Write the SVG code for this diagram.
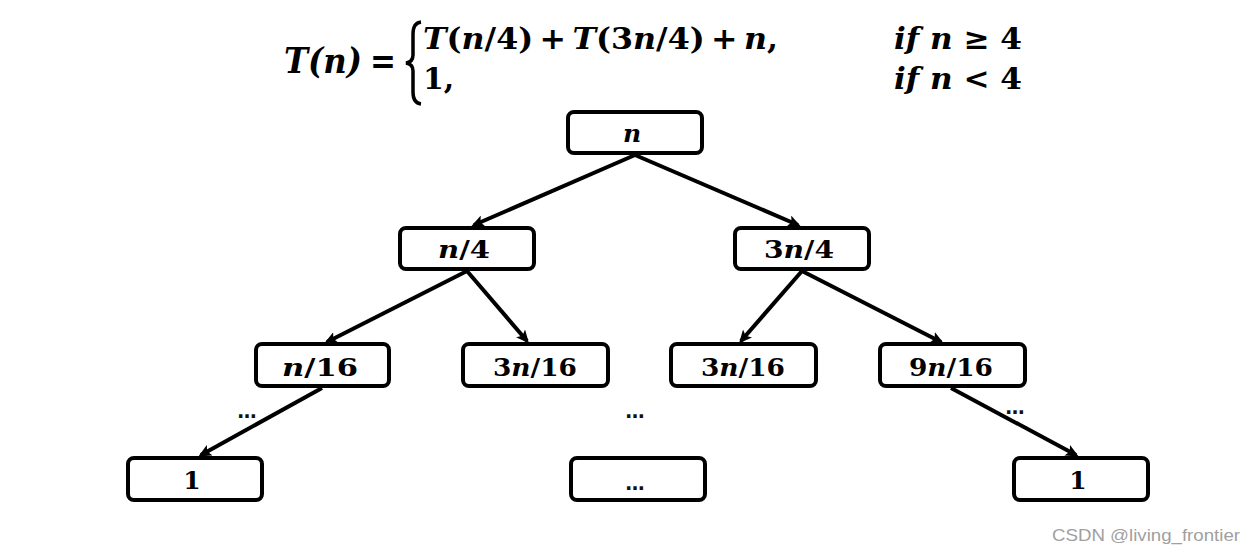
<svg xmlns="http://www.w3.org/2000/svg" width="1257" height="554" viewBox="0 0 1257 554">
<style>
.box{fill:#fff;stroke:#000;stroke-width:4}
.lbl{font-family:"DejaVu Serif","Liberation Serif",serif;font-weight:bold;font-size:25px;fill:#000;text-anchor:middle}
.eq{font-family:"DejaVu Serif","Liberation Serif",serif;font-weight:bold;fill:#000}
.i{font-style:italic}
.dots{font-family:"DejaVu Sans","Liberation Sans",sans-serif;font-weight:bold;font-size:19px;fill:#111;text-anchor:middle}
.conn{fill:none;stroke:#000;stroke-width:4}
</style>
<defs>
<marker id="ah" markerUnits="userSpaceOnUse" markerWidth="14" markerHeight="12" refX="10" refY="6" orient="auto">
<path d="M0,0 L13,6 L0,12 L3,6 z" fill="#000"/>
</marker>
</defs>
<rect width="1257" height="554" fill="#fff"/>

<g id="equation">
<text class="eq i" x="284" y="73" font-size="36" textLength="78" lengthAdjust="spacingAndGlyphs">T(n)</text>
<text class="eq" x="370" y="73" font-size="36" textLength="26" lengthAdjust="spacingAndGlyphs">=</text>
<path d="M421,22 Q413,23 413,34 L413,55 Q413,62 406,63 Q413,64 413,71 L413,92 Q413,103 421,104" fill="none" stroke="#000" stroke-width="3.5"/>
<text class="eq" x="423" y="49" font-size="30" textLength="355" lengthAdjust="spacingAndGlyphs"><tspan class="i">T</tspan>(<tspan class="i">n</tspan>/4)&#8201;+&#8201;<tspan class="i">T</tspan>(3<tspan class="i">n</tspan>/4)&#8201;+&#8201;<tspan class="i">n</tspan>,</text>
<text class="eq" x="423" y="89" font-size="30">1,</text>
<text class="eq" x="894" y="49" font-size="30" textLength="128" lengthAdjust="spacingAndGlyphs"><tspan class="i">if n</tspan> ≥ 4</text>
<text class="eq" x="894" y="89" font-size="30" textLength="128" lengthAdjust="spacingAndGlyphs"><tspan class="i">if n</tspan> &lt; 4</text>
</g>

<g id="connectors">
<line class="conn" x1="635" y1="155" x2="474" y2="225" marker-end="url(#ah)"/>
<line class="conn" x1="635" y1="155" x2="798" y2="225" marker-end="url(#ah)"/>
<line class="conn" x1="467" y1="271" x2="327" y2="342" marker-end="url(#ah)"/>
<line class="conn" x1="467" y1="271" x2="527" y2="341" marker-end="url(#ah)"/>
<line class="conn" x1="802" y1="271" x2="741" y2="341" marker-end="url(#ah)"/>
<line class="conn" x1="802" y1="271" x2="941" y2="342" marker-end="url(#ah)"/>
<line class="conn" x1="322" y1="388" x2="201" y2="455" marker-end="url(#ah)"/>
<line class="conn" x1="951" y1="388" x2="1076" y2="455" marker-end="url(#ah)"/>
</g>

<g id="node-n"><rect class="box" x="568" y="112" width="134" height="41" rx="6"/><text class="lbl i" x="632" y="142">n</text></g>
<g id="node-n4"><rect class="box" x="400" y="228" width="134" height="41" rx="6"/><text class="lbl" x="464" y="258" textLength="52" lengthAdjust="spacingAndGlyphs"><tspan class="i">n</tspan>/4</text></g>
<g id="node-3n4"><rect class="box" x="735" y="228" width="134" height="41" rx="6"/><text class="lbl" x="799" y="258" textLength="70" lengthAdjust="spacingAndGlyphs">3<tspan class="i">n</tspan>/4</text></g>
<g id="node-n16"><rect class="box" x="256" y="344" width="133" height="42" rx="6"/><text class="lbl" x="320" y="376" textLength="76" lengthAdjust="spacingAndGlyphs"><tspan class="i">n</tspan>/16</text></g>
<g id="node-3n16a"><rect class="box" x="463" y="344" width="145" height="42" rx="6"/><text class="lbl" x="535" y="376" textLength="84" lengthAdjust="spacingAndGlyphs">3<tspan class="i">n</tspan>/16</text></g>
<g id="node-3n16b"><rect class="box" x="671" y="344" width="145" height="42" rx="6"/><text class="lbl" x="743" y="376" textLength="84" lengthAdjust="spacingAndGlyphs">3<tspan class="i">n</tspan>/16</text></g>
<g id="node-9n16"><rect class="box" x="880" y="344" width="145" height="42" rx="6"/><text class="lbl" x="951" y="376" textLength="84" lengthAdjust="spacingAndGlyphs">9<tspan class="i">n</tspan>/16</text></g>
<g id="node-1a"><rect class="box" x="128" y="458" width="134" height="42" rx="6"/><text class="lbl" x="192" y="489" font-size="24">1</text></g>
<g id="node-dots"><rect class="box" x="571" y="458" width="134" height="42" rx="6"/><text class="dots" x="635" y="490">…</text></g>
<g id="node-1b"><rect class="box" x="1014" y="458" width="134" height="42" rx="6"/><text class="lbl" x="1078" y="489" font-size="24">1</text></g>

<g id="ellipses">
<text class="dots" x="247" y="418">…</text>
<text class="dots" x="635" y="418">…</text>
<text class="dots" x="1015" y="414">…</text>
</g>

<text x="1052" y="541" font-family="'Liberation Sans',Arial,sans-serif" font-size="17" fill="#a0a0a0" textLength="188" lengthAdjust="spacingAndGlyphs">CSDN @living_frontier</text>
</svg>
